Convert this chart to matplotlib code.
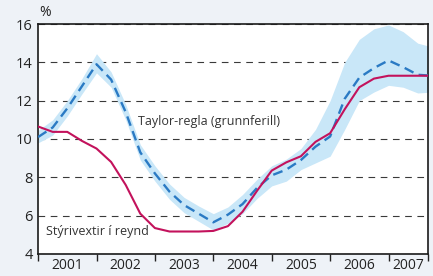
import numpy as np
import matplotlib.pyplot as plt

# quarterly data 2001Q1 .. 2007Q4 (last point is cut by the axis edge)
quarters = [2001 + i / 4 for i in range(28)]

# Stýrivextir í reynd (policy rate)
policy_rate = [10.65, 10.37, 10.37, 9.9, 9.5, 8.8, 7.6, 6.1,
               5.35, 5.17, 5.17, 5.17, 5.2, 5.45, 6.2, 7.3,
               8.35, 8.78, 9.1, 9.85, 10.3, 11.55, 12.7, 13.15,
               13.3, 13.3, 13.3, 13.3]

# Taylor-regla (grunnferill)
taylor = [10.1, 10.6, 11.6, 12.75, 13.9, 13.1, 11.4, 9.3,
          8.2, 7.25, 6.55, 6.1, 5.65, 6.05, 6.6, 7.45,
          8.1, 8.4, 8.9, 9.6, 10.13, 12.1, 13.2, 13.7,
          14.1, 13.75, 13.35, 13.3]

# uncertainty band round the Taylor rule
band_upper = [10.45, 11.0, 12.0, 13.15, 14.45, 13.5, 11.8, 9.7,
              8.6, 7.65, 6.95, 6.5, 6.1, 6.45, 7.1, 7.9,
              8.6, 8.95, 9.5, 10.5, 12.0, 14.0, 15.2, 15.75,
              15.95, 15.6, 15.0, 14.8]
band_lower = [9.8, 10.2, 11.2, 12.35, 13.45, 12.7, 11.0, 8.9,
              7.8, 6.85, 6.15, 5.7, 5.25, 5.6, 6.1, 6.9,
              7.55, 7.8, 8.4, 8.75, 9.1, 10.5, 12.0, 12.45,
              12.8, 12.7, 12.4, 12.45]

years = [2001, 2002, 2003, 2004, 2005, 2006, 2007]
year_labels = ["2001", "2002", "2003", "2004", "2005", "2006", "2007"]

plt.rcParams['font.family'] = ['Open Sans', 'DejaVu Sans']

bg = '#eef2f7'
fig = plt.figure(figsize=(4.33, 2.76), dpi=100, facecolor=bg)
ax = fig.add_axes([0.088, 0.080, 0.901, 0.833])
ax.set_facecolor('white')

xmax = 2007.68
ax.set_xlim(2001, xmax)
ax.set_ylim(4, 16)

# band, then the two lines
ax.fill_between(quarters, band_lower, band_upper, color='#c9e7f8', lw=0, zorder=1)
ax.plot(quarters, taylor, color='#2a7ac4', lw=1.7, dashes=(4.2, 2.4), zorder=3)
ax.plot(quarters, policy_rate, color='#c3125c', lw=1.5, zorder=4)

# dashed gridlines
ax.set_axisbelow(True)
ax.yaxis.grid(True, color='#3a3a3a', lw=0.8, linestyle=(0, (6, 5)))

ax.set_yticks([4, 6, 8, 10, 12, 14, 16])
ax.tick_params(axis='y', length=0, pad=4, labelsize=10.5, colors='#222222')

# year ticks on the boundaries, labels in the middle of each year
ax.set_xticks(years + [xmax])
ax.set_xticklabels([])
ax.tick_params(axis='x', which='major', direction='out', length=5, width=1, color='#222222')
mids = [y + 0.5 for y in years[:-1]] + [(2007 + xmax) / 2]
ax.set_xticks(mids, minor=True)
ax.set_xticklabels(year_labels, minor=True)
ax.tick_params(axis='x', which='minor', length=0, pad=3, labelsize=10, colors='#222222')

for s in ax.spines.values():
    s.set_color('#1a1a1a')
    s.set_linewidth(1.2)

# labels for the two series
ax.text(2002.71, 10.9, "Taylor-regla (grunnferill)", fontsize=9,
        color='#333333', va='center', ha='left')
ax.text(2001.14, 5.15, "Stýrivextir í reynd", fontsize=9,
        color='#333333', va='center', ha='left')

fig.text(0.103, 0.955, "%", fontsize=10, color='#222222', ha='center', va='center')

fig.savefig("out.png", dpi=100, facecolor=bg)
